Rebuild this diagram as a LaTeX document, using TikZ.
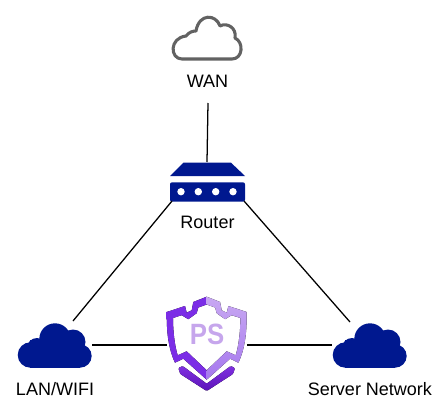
\documentclass[tikz,border=0pt]{standalone}
\usepackage{fontspec}
\setmainfont{Liberation Sans}
\definecolor{navy}{HTML}{00188F}
\definecolor{cloudgrey}{HTML}{626262}
\definecolor{psc}{HTML}{C6A6EC}
\definecolor{slA}{HTML}{7B2DE6}
\definecolor{slB}{HTML}{A873F0}
\definecolor{srA}{HTML}{C8A8F2}
\definecolor{srB}{HTML}{D5BCF5}
\definecolor{srC}{HTML}{A678EE}
\definecolor{chA}{HTML}{7F30E0}
\definecolor{chB}{HTML}{5C14B8}
\tikzset{
  link/.style={draw=black,line width=0.95pt},
  lab/.style={font=\fontsize{13.5}{16}\selectfont,inner sep=0pt,text=black},
  filledcloud/.pic={
    \fill[navy] (25.4,45) circle (12.7);
    \fill[navy] (32,38) circle (10);
    \fill[navy] (50,29) circle (15.7);
    \fill[navy] (68,32) circle (12.5);
    \fill[navy] (75,46) circle (11.7);
    \fill[navy] (25.4,30) rectangle (75,57.7);
  }
}
\begin{document}
\begin{tikzpicture}[x=0.75pt,y=-0.75pt]
\useasboundingbox (0,0) rectangle (447,414);
% WAN cloud
\draw[cloudgrey,line width=2.3pt,line join=round,fill=white,shift={(160,5)}]
  (22,54) .. controls (10,54) and (9,33) .. (26,31)
  .. controls (29,27) and (33,26) .. (36,26)
  .. controls (39,8) and (56,9) .. (60,21)
  .. controls (67,17) and (77,23) .. (75,33)
  .. controls (84,37) and (83,54) .. (72,54) -- cycle;
% router
\fill[navy] (170,176) -- (183.3,162.7) -- (231,162.7) -- (245,176) -- cycle;
\fill[navy,rounded corners=1.5pt] (170,182.3) rectangle (245,201.7);
\fill[white] (181,191.7) circle (3.7) (198.3,191.7) circle (3.7) (215.7,191.7) circle (3.7) (233,191.7) circle (3.7);
% filled clouds
\pic at (5,310) {filledcloud};
\pic at (320,310) {filledcloud};
% shield
\fill[top color=slA,middle color=slB,bottom color=slA]
  (206.7,296.7) -- (193.3,302) -- (191.7,310.3) -- (186.7,312.7) -- (185,306) -- (166.7,312)
  .. controls (166.7,325) and (166.7,345) .. (175,362.7)
  -- (183.3,358.7) -- (206.7,379.7) -- (206.7,370.3) -- (186.7,351.3) -- (177.7,355.3)
  .. controls (174.5,345) and (173,330) .. (173,318)
  -- (181.7,315.2) -- (188.3,319.2) -- (196.7,313.2) -- (198.3,307.5) -- (206.7,304.5) -- cycle;
\fill[top color=srA,middle color=srB,bottom color=srC]
  (206.7,296.7) -- (220.1,302) -- (221.7,310.3) -- (226.7,312.7) -- (228.4,306) -- (246.7,312)
  .. controls (246.7,325) and (246.7,345) .. (238.4,362.7)
  -- (230.1,358.7) -- (206.7,379.7) -- (206.7,370.3) -- (226.7,351.3) -- (235.7,355.3)
  .. controls (238.9,345) and (240.4,330) .. (240.4,318)
  -- (231.7,315.2) -- (225.1,319.2) -- (216.7,313.2) -- (215.1,307.5) -- (206.7,304.5) -- cycle;
\fill[top color=chA,bottom color=chB,rounded corners=0.8pt] (178.3,368) -- (182.7,366) -- (206.7,383.7) -- (230.7,366) -- (235,368) -- (233,374) -- (206.7,391) -- (180.3,374) -- cycle;
\node[font=\fontsize{22}{24}\selectfont\bfseries,text=psc,inner sep=0pt,xscale=0.88] (ps) at (207,334) {PS};
% labels
\node[lab] (wan) at (207.5,81) {WAN};
\node[lab] (router) at (207.5,222) {Router};
\node[lab] (lan) at (55,389) {LAN/WIFI};
\node[lab] (srv) at (370,389) {Server Network};
% connector ends
\coordinate (a1) at (208,103); \coordinate (a2) at (207,162);
\coordinate (b1) at (172,201); \coordinate (b2) at (73,321);
\coordinate (c1) at (244,201); \coordinate (c2) at (350,322);
\coordinate (d1) at (92,345); \coordinate (d2) at (167,345);
\coordinate (e1) at (247,345); \coordinate (e2) at (332,345);
\draw[link] (a1) -- (a2);
\draw[link] (b1) -- (b2);
\draw[link] (c1) -- (c2);
\draw[link] (d1) -- (d2);
\draw[link] (e1) -- (e2);
\end{tikzpicture}
\end{document}
